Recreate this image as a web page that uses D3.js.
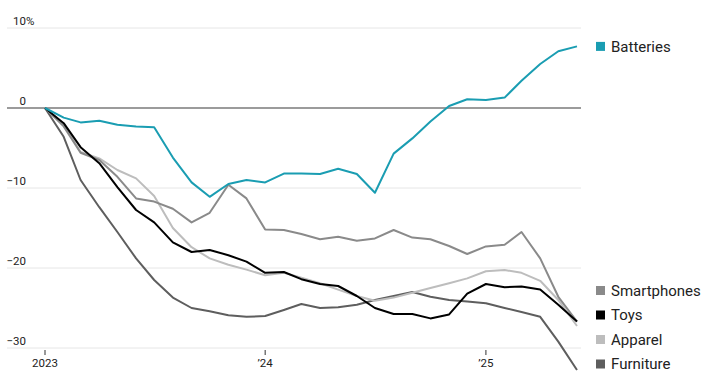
<!DOCTYPE html>
<html>
<head>
<meta charset="utf-8">
<script src="https://cdn.jsdelivr.net/npm/d3@7.9.0/dist/d3.min.js"></script>
<style>
  body { margin: 0; background: #fff; }
  svg { display: block; font-family: Roboto, "Noto Sans", sans-serif; }
</style>
</head>
<body>
<svg width="706" height="392"></svg>
<script>
// monthly change since Jan 2023, in percent (Jan 2023 .. Jun 2025)
const seriesNames = ["Batteries", "Smartphones", "Toys", "Apparel", "Furniture"];
const batteries = [0, -1.2, -1.8, -1.6, -2.1, -2.3, -2.4, -6.2, -9.3, -11.1, -9.5, -9.0, -9.3, -8.2, -8.2, -8.25, -7.6, -8.25, -10.6, -5.7, -3.8, -1.7, 0.25, 1.1, 1.0, 1.3, 3.4, 5.5, 7.1, 7.7];
const smartphones = [0, -2.3, -5.6, -6.5, -8.6, -11.3, -11.7, -12.6, -14.3, -13.1, -9.6, -11.3, -15.2, -15.25, -15.75, -16.4, -16.1, -16.6, -16.3, -15.25, -16.2, -16.4, -17.25, -18.25, -17.3, -17.1, -15.5, -18.8, -23.6, -26.7];
const toys = [0, -1.9, -4.9, -6.9, -9.9, -12.75, -14.3, -16.8, -18.0, -17.75, -18.4, -19.2, -20.6, -20.5, -21.4, -22.0, -22.25, -23.5, -25.0, -25.75, -25.75, -26.3, -25.8, -23.2, -22.0, -22.4, -22.3, -22.7, -24.6, -26.7];
const apparel = [0, -2.1, -5.5, -6.3, -7.75, -8.8, -11.0, -15.0, -17.4, -18.8, -19.6, -20.2, -20.9, -20.6, -21.2, -21.9, -22.7, -23.5, -24.1, -23.7, -23.1, -22.5, -21.9, -21.3, -20.4, -20.25, -20.6, -21.6, -24.0, -27.25];
const furniture = [0, -3.6, -9.0, -12.4, -15.5, -18.8, -21.5, -23.7, -25.0, -25.4, -25.9, -26.1, -26.0, -25.25, -24.5, -25.0, -24.9, -24.6, -24.0, -23.5, -23.0, -23.6, -24.0, -24.2, -24.4, -25.0, -25.5, -26.1, -29.2, -32.75];
const yTicks = [10, 0, -10, -20, -30];
const xTickLabels = ["2023", "\u201924", "\u201925"];

const months = d3.timeMonth.range(new Date(2023, 0, 1), new Date(2025, 6, 1));
const allValues = [batteries, smartphones, toys, apparel, furniture];
const colors = ["#1a9db2", "#8a8a8a", "#000000", "#bdbdbd", "#5e5e5e"];

let svg = d3.select("svg");

let x = d3.scaleTime()
    .domain([months[0], months[months.length - 1]])
    .range([45, 577]);
let y = d3.scaleLinear().domain([-30, 10]).range([348, 28]);

// gridlines + y labels
yTicks.forEach((t) => {
    svg.append("line")
        .attr("x1", 7).attr("x2", 581)
        .attr("y1", y(t)).attr("y2", y(t))
        .attr("stroke", t === 0 ? "#7a7a7a" : "#e6e6e6")
        .attr("stroke-width", t === 0 ? 1.6 : 1);
    svg.append("text")
        .attr("x", 26).attr("y", y(t) - 3)
        .attr("text-anchor", "end")
        .attr("font-size", 11.5).attr("fill", "#222")
        .text(t < 0 ? "\u2212" + Math.abs(t) : t);
    if (t === 10) {
        svg.append("text")
            .attr("x", 26).attr("y", y(t) - 3)
            .attr("font-size", 11.5).attr("fill", "#222")
            .text("%");
    }
});

// x axis ticks
let xTickDates = [new Date(2023, 0, 1), new Date(2024, 0, 1), new Date(2025, 0, 1)];
xTickDates.forEach((d, i) => {
    svg.append("line")
        .attr("x1", x(d)).attr("x2", x(d))
        .attr("y1", 350).attr("y2", 355)
        .attr("stroke", "#333");
    svg.append("text")
        .attr("x", x(d)).attr("y", 367)
        .attr("text-anchor", "middle")
        .attr("font-size", 11.5).attr("fill", "#222")
        .text(xTickLabels[i]);
});

let line = d3.line()
    .x((d, i) => x(months[i]))
    .y((d) => y(d));

// draw back to front so teal ends on top
[4, 3, 1, 2, 0].forEach((idx) => {
    svg.append("path")
        .attr("d", line(allValues[idx]))
        .attr("fill", "none")
        .attr("stroke", colors[idx])
        .attr("stroke-width", 2)
        .attr("stroke-linejoin", "round");
});

// legend labels next to line ends; crowded ones get stacked up from the bottom
let labels = seriesNames.map((name, i) => ({
    name, color: colors[i], ly: y(allValues[i][allValues[i].length - 1])
}));
const gap = 24.5;
let limit = 364;
labels.slice().reverse().forEach((l) => {
    if (l.ly > limit - gap) l.ly = limit;
    limit = l.ly - gap;
});

labels.forEach((l) => {
    svg.append("rect")
        .attr("x", 596).attr("y", l.ly - 4.5)
        .attr("width", 9).attr("height", 9)
        .attr("fill", l.color);
    svg.append("text")
        .attr("x", 611).attr("y", l.ly)
        .attr("dy", "0.36em")
        .attr("font-size", 15).attr("fill", "#222")
        .text(l.name);
});
</script>
</body>
</html>
